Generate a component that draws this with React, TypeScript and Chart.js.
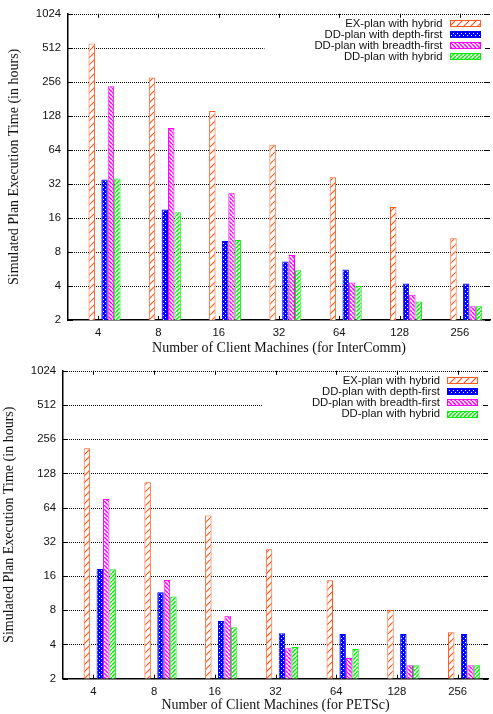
import React, { useEffect, useRef } from 'react';
import { Chart, registerables } from 'chart.js';

Chart.register(...registerables);

// ---------- data ----------
const categories = ['4', '8', '16', '32', '64', '128', '256'];
const yTickValues = [2, 4, 8, 16, 32, 64, 128, 256, 512, 1024];
const seriesLabels = [
  'EX-plan with hybrid',
  'DD-plan with depth-first',
  'DD-plan with breadth-first',
  'DD-plan with hybrid',
];
const seriesColors = ['#FF5A1E', '#0000FF', '#FF00FF', '#00EE00'];

// InterComm
const icExHybrid = [560, 280, 141, 71, 36.6, 20, 10.6];
const icDdDepth = [35, 19, 10, 6.6, 5.6, 4.2, 4.2];
const icDdBreadth = [234, 100, 26.4, 7.5, 4.3, 3.35, 2.64];
const icDdHybrid = [35.7, 18, 10.2, 5.5, 4.0, 2.92, 2.64];

// PETSc
const peExHybrid = [213, 107, 54.5, 27.5, 14.7, 8.05, 5.12];
const peDdDepth = [18.5, 11.5, 6.44, 5.02, 4.95, 4.95, 4.95];
const peDdBreadth = [76.3, 14.8, 7.17, 3.7, 3.04, 2.62, 2.62];
const peDdHybrid = [18.4, 10.6, 5.67, 3.8, 3.65, 2.62, 2.62];

const SANS = '"Liberation Sans", Arial, Helvetica, sans-serif';
const SERIF = '"Liberation Serif", "Times New Roman", serif';

function makePattern(kind: string, color: string): CanvasPattern | string {
  const c = document.createElement('canvas');
  const s = kind === 'sparse' ? 7 : 4;
  c.width = s;
  c.height = s;
  const g = c.getContext('2d');
  if (!g) return color;
  if (kind === 'cross') {
    g.fillStyle = color;
    g.fillRect(0, 0, s, s);
    g.fillStyle = '#fff';
    g.fillRect(1, 1, 1, 1);
    g.fillRect(3, 3, 1, 1);
  } else {
    g.fillStyle = '#fff';
    g.fillRect(0, 0, s, s);
    g.strokeStyle = color;
    g.lineWidth = kind === 'sparse' ? 1.2 : 1.5;
    g.beginPath();
    for (const o of [-s, 0, s]) {
      if (kind === 'back') {
        g.moveTo(o, 0);
        g.lineTo(o + s, s);
      } else {
        g.moveTo(o, s);
        g.lineTo(o + s, 0);
      }
    }
    g.stroke();
  }
  return g.createPattern(c, 'repeat') || color;
}

const decor = {
  id: 'gnuplotDecor',
  beforeDatasetsDraw(chart: any) {
    const { ctx, chartArea, scales } = chart;
    ctx.save();
    ctx.strokeStyle = '#000';
    ctx.lineWidth = 1;
    ctx.setLineDash([1, 1]);
    ctx.beginPath();
    for (const v of yTickValues) {
      if (v === 2) continue;
      const y = Math.round(scales.y.getPixelForValue(v)) + 0.5;
      ctx.moveTo(chartArea.left, y);
      ctx.lineTo(chartArea.right, y);
    }
    ctx.stroke();
    ctx.restore();
  },
  afterDatasetsDraw(chart: any, _args: any, opts: any) {
    const { ctx, chartArea } = chart;
    const items = chart.data.datasets.filter((d: any) => d.label);
    ctx.save();
    ctx.font = `11.3px ${SANS}`;
    const maxW = Math.max(...items.map((d: any) => ctx.measureText(d.label).width));
    const gap = 11.1;
    const swR = chartArea.right - opts.legendRight;
    const swW = 30;
    const swL = swR - swW;
    const textR = swL - 7;
    const rowTop = chartArea.top + opts.legendTop;
    const boxL = textR - maxW - 50;
    const boxT = chartArea.top + 3;
    const boxB = rowTop + (items.length - 1) * gap + 8;
    ctx.fillStyle = '#fff';
    ctx.fillRect(boxL, boxT, chartArea.right - 3 - boxL, boxB - boxT);
    items.forEach((d: any, i: number) => {
      const y = rowTop + i * gap;
      ctx.fillStyle = '#111';
      ctx.textAlign = 'right';
      ctx.textBaseline = 'middle';
      ctx.fillText(d.label, textR, y);
      const top = Math.round(y - 3.5) + 0.5;
      ctx.fillStyle = d.backgroundColor;
      ctx.fillRect(Math.round(swL) + 0.5, top, swW, 6);
      ctx.strokeStyle = d.borderColor;
      ctx.lineWidth = 1;
      ctx.strokeRect(Math.round(swL) + 0.5, top, swW, 6);
    });
    ctx.restore();
  },
  afterDraw(chart: any) {
    const { ctx, chartArea, scales } = chart;
    ctx.save();
    ctx.strokeStyle = '#000';
    ctx.lineWidth = 1;
    ctx.beginPath();
    const xs = scales.x;
    for (let i = 0; i < xs.ticks.length; i++) {
      const x = Math.round(xs.getPixelForTick(i)) + 0.5;
      ctx.moveTo(x, chartArea.bottom);
      ctx.lineTo(x, chartArea.bottom - 4);
      ctx.moveTo(x, chartArea.top);
      ctx.lineTo(x, chartArea.top + 4);
    }
    const ys = scales.y;
    for (const v of yTickValues) {
      const y = Math.round(ys.getPixelForValue(v)) + 0.5;
      ctx.moveTo(chartArea.left, y);
      ctx.lineTo(chartArea.left + 5, y);
      ctx.moveTo(chartArea.right - 5, y);
      ctx.lineTo(chartArea.right, y);
    }
    ctx.stroke();
    ctx.restore();
  },
};

type Geom = {
  padTop: number;
  padRight: number;
  yWidth: number;
  xHeight: number;
  yTitlePad: number;
  xTitlePad: number;
  legendTop: number;
  legendRight: number;
};

function PlanChart(props: {
  ex: number[];
  depth: number[];
  breadth: number[];
  hybrid: number[];
  xTitle: string;
  geom: Geom;
}) {
  const ref = useRef<HTMLCanvasElement>(null);
  useEffect(() => {
    if (!ref.current) return;
    const { ex, depth, breadth, hybrid, xTitle, geom } = props;
    const kinds = ['sparse', 'cross', 'back', 'fwd'];
    const series = [ex, depth, breadth, hybrid];
    const real = series.map((d, i) => ({
      label: seriesLabels[i],
      data: d,
      backgroundColor: makePattern(kinds[i], seriesColors[i]),
      borderColor: seriesColors[i],
      borderWidth: 1,
    }));
    const spacer = () => ({
      label: '',
      data: categories.map(() => null),
      backgroundColor: 'rgba(0,0,0,0)',
      borderWidth: 0,
    });
    const chart = new Chart(ref.current, {
      type: 'bar',
      data: {
        labels: categories,
        datasets: [spacer(), spacer(), real[0], spacer(), real[1], real[2], real[3]] as any,
      },
      plugins: [decor as any],
      options: {
        responsive: false,
        animation: false,
        layout: { padding: { top: geom.padTop, right: geom.padRight, left: 0, bottom: 0 } },
        datasets: { bar: { categoryPercentage: 0.743, barPercentage: 1 } },
        plugins: {
          legend: { display: false },
          tooltip: { enabled: false },
          gnuplotDecor: { legendTop: geom.legendTop, legendRight: geom.legendRight },
        } as any,
        scales: {
          x: {
            type: 'category',
            offset: true,
            grid: { display: false, drawTicks: false, tickLength: 0 },
            border: { display: true, color: '#000', width: 1.5 },
            ticks: {
              color: '#111',
              font: { family: SANS, size: 11.3 },
              padding: 6,
              maxRotation: 0,
              autoSkip: false,
            },
            title: {
              display: true,
              text: xTitle,
              color: '#111',
              font: { family: SERIF, size: 14 },
              padding: { top: 0, bottom: geom.xTitlePad },
            },
            afterFit: (s: any) => {
              s.height = geom.xHeight;
            },
          },
          y: {
            type: 'logarithmic',
            min: 2,
            max: 1024,
            afterBuildTicks: (s: any) => {
              s.ticks = yTickValues.map((v) => ({ value: v }));
            },
            grid: { display: false, drawTicks: false, tickLength: 0 },
            border: { display: true, color: '#000', width: 1.5 },
            ticks: {
              color: '#111',
              font: { family: SANS, size: 11.3 },
              padding: 7,
              autoSkip: false,
              callback: (v: any) => String(v),
            },
            title: {
              display: true,
              text: 'Simulated Plan Execution Time (in hours)',
              color: '#111',
              font: { family: SERIF, size: 14 },
              padding: { top: geom.yTitlePad, bottom: 0 },
            },
            afterFit: (s: any) => {
              s.width = geom.yWidth;
            },
          },
        } as any,
      },
    });
    return () => chart.destroy();
  }, []);
  return <canvas ref={ref} width={493} height={357} style={{ display: 'block' }} />;
}

export default function App() {
  return (
    <div style={{ position: 'absolute', left: 0, top: 0, width: 493, height: 714, background: '#fff' }}>
      <PlanChart
        ex={icExHybrid}
        depth={icDdDepth}
        breadth={icDdBreadth}
        hybrid={icDdHybrid}
        xTitle="Number of Client Machines (for InterComm)"
        geom={{ padTop: 11, padRight: 3, yWidth: 68, xHeight: 37, yTitlePad: 6.3, xTitlePad: 0.6, legendTop: 9.7, legendRight: 10.5 }}
      />
      <PlanChart
        ex={peExHybrid}
        depth={peDdDepth}
        breadth={peDdBreadth}
        hybrid={peDdHybrid}
        xTitle="Number of Client Machines (for PETSc)"
        geom={{ padTop: 13.7, padRight: 5, yWidth: 63, xHeight: 35.3, yTitlePad: 1.3, xTitlePad: 0, legendTop: 10, legendRight: 11 }}
      />
    </div>
  );
}
